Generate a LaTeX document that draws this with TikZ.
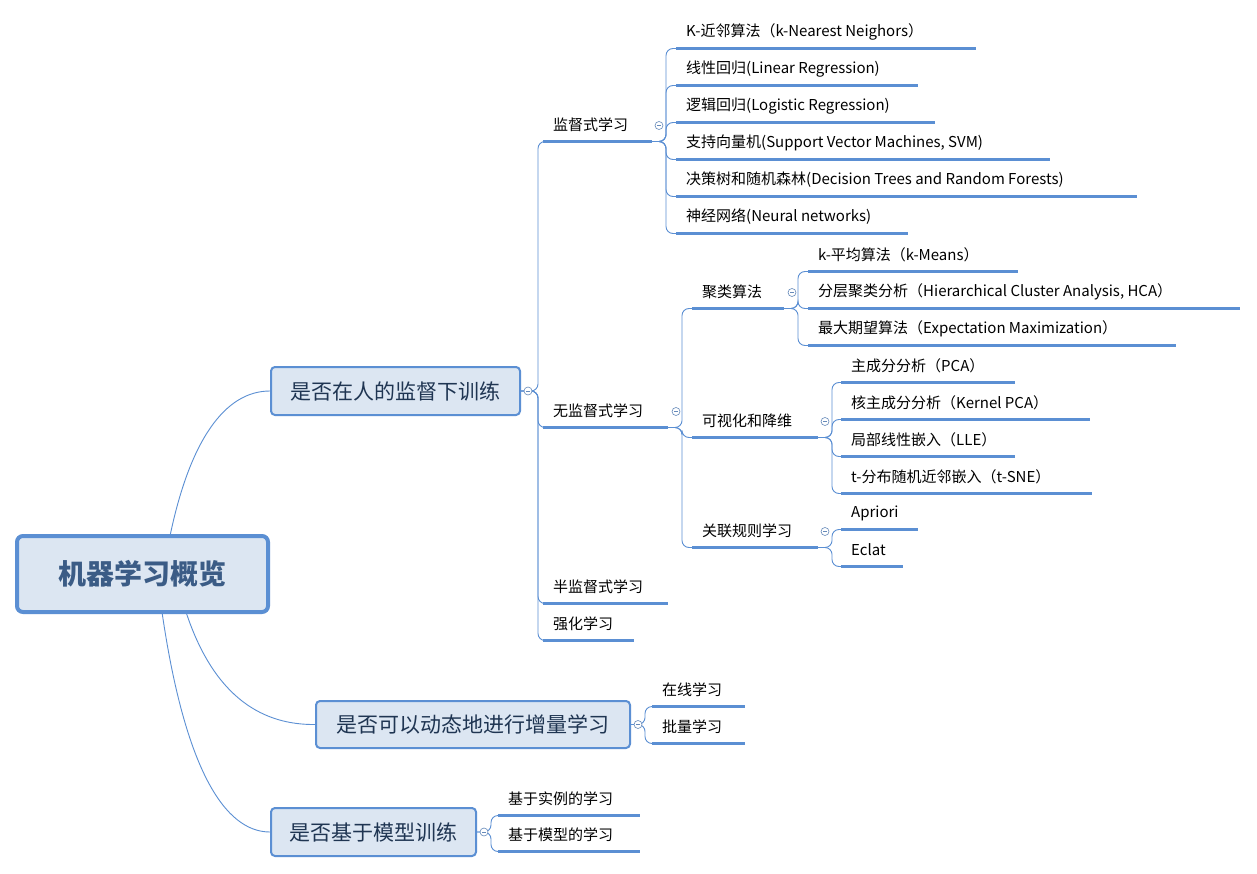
\documentclass[tikz,border=0pt]{standalone}
\usepackage{fontspec}
\setmainfont{Noto Sans CJK SC}
\usetikzlibrary{calc}
\definecolor{ln}{HTML}{5B8FD3}
\definecolor{bx}{HTML}{DCE6F2}
\definecolor{tx}{HTML}{1F3552}
\definecolor{rt}{HTML}{3B5C86}
\tikzset{
 lf/.style={anchor=west,inner sep=0pt,font=\fontsize{15}{18}\selectfont},
 ul/.style={draw=ln,line width=2.6pt},
 cn/.style={draw=ln,line width=0.9pt,rounded corners=7pt},
 mainbox/.style={draw=ln,fill=bx,line width=2pt,rounded corners=4pt,text=tx,font=\fontsize{21}{24}\selectfont,inner sep=0pt},
 rootbox/.style={draw=ln,fill=bx,line width=4pt,rounded corners=6pt,text=rt,font=\fontsize{28}{32}\selectfont\bfseries,inner sep=0pt},
 fold/.style={circle,draw=ln!70!gray,fill=white,line width=0.6pt,minimum size=8pt,inner sep=0pt}
}
\newcommand\lf[5]{\node[lf] (#1) at (#2+10,#4) {#5};
 \coordinate (#1s) at (#2,#4+16.5); \coordinate (#1e) at (#3,#4+16.5);
 \draw[ul] (#1s)--(#1e);}
\newcommand\fd[1]{\node[fold] at (#1) {}; \draw[ln!70!gray,line width=0.6pt] ($(#1)+(-2,0)$)--($(#1)+(2,0)$);}
\begin{document}
\begin{tikzpicture}[x=1pt,y=-1pt]
\useasboundingbox[fill=white] (0,0) rectangle (1257,874);
% root and main boxes
\node[rootbox,minimum width=251,minimum height=76] (root) at (142.5,574) {机器学习概览};
\node[mainbox,minimum width=249,minimum height=48] (m1) at (395.5,391) {是否在人的监督下训练};
\node[mainbox,minimum width=314,minimum height=47] (m2) at (473,724.5) {是否可以动态地进行增量学习};
\node[mainbox,minimum width=205,minimum height=48] (m3) at (373.5,832) {是否基于模型训练};
\draw[cn] (170,536) .. controls (190,440) and (225,391) .. (m1.west);
\draw[cn] (186,612) .. controls (215,700) and (265,725) .. (m2.west);
\draw[cn] (162,612) .. controls (185,770) and (225,832) .. (m3.west);
% level 2 under m1
\lf{sup}{543}{652}{125}{监督式学习}
\lf{uns}{543}{668}{411}{无监督式学习}
\lf{semi}{543}{668}{587}{半监督式学习}
\lf{rl}{543}{634}{624}{强化学习}
\foreach \c in {sup,uns,semi,rl}{\draw[cn] (m1.east) -- ++(17,0) |- (\c s);}
% supervised
\lf{knn}{676}{976}{32}{K-近邻算法（k-Nearest Neighors）}
\lf{lin}{676}{918}{69}{线性回归(Linear Regression)}
\lf{log}{676}{935}{106}{逻辑回归(Logistic Regression)}
\lf{svm}{676}{1050}{143}{支持向量机(Support Vector Machines, SVM)}
\lf{dt}{676}{1137}{180}{决策树和随机森林(Decision Trees and Random Forests)}
\lf{nn}{676}{908}{217}{神经网络(Neural networks)}
\foreach \c in {knn,lin,log,svm,dt,nn}{\draw[cn] (supe) -- ++(14,0) |- (\c s);}
% unsupervised
\lf{clu}{692}{784}{292}{聚类算法}
\lf{vis}{692}{818}{421}{可视化和降维}
\lf{ass}{692}{818}{531}{关联规则学习}
\foreach \c in {clu,vis,ass}{\draw[cn] (unse) -- ++(14,0) |- (\c s);}
\lf{km}{808}{1018}{255}{k-平均算法（k-Means）}
\lf{hca}{808}{1240}{292}{分层聚类分析（Hierarchical Cluster Analysis, HCA）}
\lf{em}{808}{1176}{329}{最大期望算法（Expectation Maximization）}
\foreach \c in {km,hca,em}{\draw[cn] (clue) -- ++(14,0) |- (\c s);}
\lf{pca}{841}{1015}{366}{主成分分析（PCA）}
\lf{kpca}{841}{1090}{403}{核主成分分析（Kernel PCA）}
\lf{lle}{841}{1015}{440}{局部线性嵌入（LLE）}
\lf{tsne}{841}{1092}{477}{t-分布随机近邻嵌入（t-SNE）}
\foreach \c in {pca,kpca,lle,tsne}{\draw[cn] (vise) -- ++(14,0) |- (\c s);}
\lf{apr}{841}{918}{513}{Apriori}
\lf{ecl}{841}{903}{550}{Eclat}
\foreach \c in {apr,ecl}{\draw[cn] (asse) -- ++(14,0) |- (\c s);}
% m2
\lf{onl}{652}{745}{690}{在线学习}
\lf{bat}{652}{745}{727}{批量学习}
\foreach \c in {onl,bat}{\draw[cn] (m2.east) -- ++(14,0) |- (\c s);}
% m3
\lf{ins}{498}{640}{799}{基于实例的学习}
\lf{mod}{498}{640}{835}{基于模型的学习}
\foreach \c in {ins,mod}{\draw[cn] (m3.east) -- ++(14,0) |- (\c s);}
% fold markers
\fd{$(m1.east)+(7,0)$}
\fd{$(m2.east)+(7,0)$}
\fd{$(m3.east)+(7,0)$}
\fd{$(supe)+(7,-16)$}
\fd{$(unse)+(8,-16)$}
\fd{$(clue)+(8,-16)$}
\fd{$(vise)+(7,-16)$}
\fd{$(asse)+(7,-16)$}
\end{tikzpicture}
\end{document}
